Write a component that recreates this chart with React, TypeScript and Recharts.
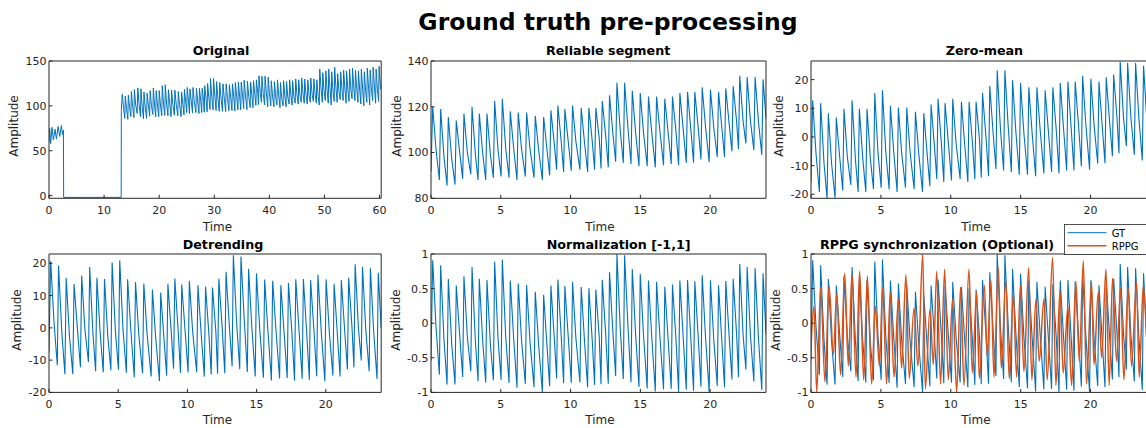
import React from 'react';
import { LineChart, Line, XAxis, YAxis } from 'recharts';

// ---------------- DATA ----------------
// Reliable segment (24 s): peak times / peak values / dicrotic-notch values / trough values
const relPeakT = [0.12, 0.69, 1.24, 1.81, 2.36, 2.94, 3.46, 4.01, 4.56, 5.11, 5.68, 6.25, 6.85, 7.47, 8.07, 8.59, 9.09, 9.59, 10.14, 10.76, 11.31, 11.81, 12.27, 12.79, 13.32, 13.87, 14.42, 14.99, 15.58, 16.16, 16.75, 17.3, 17.83, 18.38, 18.9, 19.43, 20.02, 20.6, 21.12, 21.65, 22.12, 22.65, 23.22, 23.79];
const relPeakV = [120, 119, 115.5, 114, 117, 120, 117, 117, 122.5, 123.5, 118, 117.5, 117.5, 116, 115.5, 118.5, 120.5, 119, 120.5, 119.5, 119.5, 119.5, 122.5, 125, 130.5, 130.5, 127, 126, 124.5, 124.5, 123.5, 124.5, 126, 126.5, 126.5, 128.5, 127.5, 126.5, 128, 129, 133.5, 133, 133, 132];
const relNotchV = [101.3, 98.1, 97.5, 100.4, 100.2, 99.2, 99.9, 99.3, 101.2, 102.0, 102.0, 101.4, 101.8, 101.2, 101.2, 103.9, 104.6, 105.0, 104.9, 104.3, 105.1, 106.4, 107.7, 108.4, 109.4, 110.7, 108.7, 108.5, 108.5, 109.3, 108.7, 110.0, 110.0, 109.8, 111.1, 111.1, 110.8, 110.6, 112.6, 113.9, 113.6, 113.6, 113.5];
const relTroughV = [88, 85.6, 86, 88.5, 90.5, 88, 88, 89, 89.5, 89, 88, 89.5, 89, 88, 90, 92.5, 91.5, 92, 92.5, 91.5, 92.5, 93, 93.5, 96, 95.5, 95, 94, 94, 93.5, 94.5, 95, 94.5, 95.5, 95.5, 97, 95.8, 98, 98, 100.5, 101.5, 104, 101, 99];
const REL_START_V = 91.6;
const REL_END_V = 115;
const REL_DURATION = 24;

// Original recording (60 s)
const origHeadT = [0, 0.12, 0.3, 0.55, 0.8, 1.1, 1.35, 1.65, 1.95, 2.25, 2.45, 2.62, 2.66, 13.1, 13.13];
const origHeadV = [60, 75, 58, 76, 62, 74, 63, 77, 66, 78, 68, 73, -2, -2, 95];
const origPrePeakT = [13.3, 13.85, 14.4, 14.95, 15.5];
const origPrePeakV = [113, 111, 112, 116, 118];
const origPreNotchV = [97, 96, 98, 99, 101];
const origPreTroughV = [86, 85, 88, 87];
const RELIABLE_START = 16; // reliable segment = original[16 s, 40 s]
const origTailPeakT = [40.35, 40.92, 41.47, 42.02, 42.58, 43.12, 43.68, 44.22, 44.78, 45.33, 45.88, 46.42, 46.98, 47.52, 48.08, 48.62, 49.15, 49.7, 50.25, 50.78, 51.32, 51.86, 52.4, 52.95, 53.48, 54.02, 54.56, 55.1, 55.63, 56.17, 56.7, 57.24, 57.78, 58.3, 58.84, 59.38, 59.92];
const origTailPeakV = [128, 127, 129, 126, 128, 127, 129, 128, 130, 129, 131, 130, 129, 131, 130, 129, 141, 137, 139, 141, 138, 143, 136, 138, 140, 139, 141, 142, 140, 139, 141, 138, 142, 140, 143, 141, 144];
const origTailTroughV = [100, 99, 101, 98, 100, 99, 102, 101, 103, 102, 104, 103, 102, 104, 105, 103, 101, 104, 106, 103, 101, 105, 104, 107, 106, 103, 105, 108, 106, 104, 102, 100, 104, 101, 106, 103, 105];
const origTailNotchV = [110, 109, 111, 108, 110, 109, 111, 110, 112, 111, 113, 112, 111, 113, 112, 111, 118, 116, 117, 118, 116, 119, 116, 117, 118, 117, 118, 119, 118, 117, 118, 116, 119, 117, 120, 118, 120];
const ORIG_END_T = 60.3;
const ORIG_END_V = 118;

// Pre-processing parameters
const ZERO_MEAN_LEVEL = 107.2;     // level of 0 in "Zero-mean"
const TREND_INTERCEPT = 99.2;      // linear trend removed in "Detrending"
const TREND_SLOPE = 0.66;

// rPPG signal (alternating extrema)
const rppgT = [0, 0.21, 0.41, 0.69, 1.0, 1.29, 1.6, 1.84, 2.12, 2.41, 2.67, 2.93, 3.22, 3.48, 3.77, 4.03, 4.34, 4.6, 4.89, 5.13, 5.41, 5.67, 5.94, 6.25, 6.48, 6.79, 7.03, 7.37, 7.65, 7.99, 8.18, 8.51, 8.75, 8.99, 9.27, 9.56, 9.82, 10.13, 10.42, 10.7, 10.94, 11.3, 11.54, 11.85, 12.04, 12.4, 12.61, 12.87, 13.09, 13.4, 13.61, 13.94, 14.18, 14.47, 14.71, 14.99, 15.23, 15.57, 15.8, 16.09, 16.33, 16.66, 16.9, 17.28, 17.52, 17.81, 18.04, 18.38, 18.64, 18.95, 19.19, 19.48, 19.71, 20.07, 20.24, 20.55, 20.79, 21.1, 21.33, 21.57, 21.86, 22.15, 22.38, 22.69, 22.93, 23.29, 23.48, 23.77, 24];
const rppgV = [-0.35, 0.25, -1.0, 0.52, -0.85, 0.55, -0.45, 0.43, -0.75, 0.72, -0.62, 0.72, -0.78, 0.75, -0.82, 0.68, -0.88, 0.25, -0.62, 0.52, -0.88, 0.45, -0.78, 0.35, -0.65, 0.7, -0.8, 0.22, -0.62, 1.0, -0.95, 0.2, -0.6, 0.75, -0.88, 0.78, -0.82, 0.35, -1.0, 0.52, -0.9, 0.78, -0.72, 0.45, -0.8, 0.55, -0.48, 0.62, -0.78, 0.8, -0.65, 0.62, -0.8, 0.42, -0.78, 0.55, -0.7, 0.8, -0.82, 0.35, -0.55, 0.35, -0.82, 0.95, -0.9, 0.48, -0.72, 0.25, -0.9, 0.6, -0.55, 0.9, -0.88, 0.6, -0.6, 0.45, -0.5, 0.78, -0.9, 0.65, -0.55, 0.5, -0.82, 0.5, -0.62, 0.6, -0.78, 0.55, -0.2];

// Tick labels
const ticksX60 = [0, 10, 20, 30, 40, 50, 60];
const ticksX24 = [0, 5, 10, 15, 20];
const ticksOrig = [0, 50, 100, 150];
const ticksRel = [80, 100, 120, 140];
const ticksTens = [-20, -10, 0, 10, 20];
const ticksNorm = [-1, -0.5, 0, 0.5, 1];

// ---------------- series construction ----------------
type Pt = { t: number; v: number };
const RISE = 0.09;       // trough -> systolic peak
const NOTCH_LAG = 0.24;  // peak -> dicrotic notch

const rel: Pt[] = [{ t: 0, v: REL_START_V }];
relPeakT.forEach((tp, i) => {
  if (i > 0) rel.push({ t: tp - RISE, v: relTroughV[i - 1] });
  rel.push({ t: tp, v: relPeakV[i] });
  if (i < relNotchV.length) rel.push({ t: tp + NOTCH_LAG, v: relNotchV[i] });
});
rel.push({ t: REL_DURATION, v: REL_END_V });

const orig: Pt[] = origHeadT.map((t, i) => ({ t, v: origHeadV[i] }));
origPrePeakT.forEach((tp, i) => {
  if (i > 0) orig.push({ t: tp - RISE, v: origPreTroughV[i - 1] });
  orig.push({ t: tp, v: origPrePeakV[i] });
  orig.push({ t: tp + NOTCH_LAG, v: origPreNotchV[i] });
});
rel.forEach((p) => orig.push({ t: p.t + RELIABLE_START, v: p.v }));
origTailPeakT.forEach((tp, i) => {
  orig.push({ t: tp - RISE, v: origTailTroughV[i] });
  orig.push({ t: tp, v: origTailPeakV[i] });
  orig.push({ t: tp + NOTCH_LAG, v: origTailNotchV[i] });
});
orig.push({ t: ORIG_END_T, v: ORIG_END_V });

const zeroMean: Pt[] = rel.map((p) => ({ t: p.t, v: p.v - ZERO_MEAN_LEVEL }));
const detrended: Pt[] = rel.map((p) => ({ t: p.t, v: p.v - (TREND_INTERCEPT + TREND_SLOPE * p.t) }));
const dMin = Math.min(...detrended.map((p) => p.v));
const dMax = Math.max(...detrended.map((p) => p.v));
const normalized: Pt[] = detrended.map((p) => ({ t: p.t, v: (2 * (p.v - dMin)) / (dMax - dMin) - 1 }));
const rppg: Pt[] = rppgT.map((t, i) => ({ t, v: rppgV[i] }));

// ---------------- styling / layout ----------------
const FONT = "'DejaVu Sans', 'Liberation Sans', sans-serif";
const AX = '#262626';
const BLUE = '#0072BD';
const ORANGE = '#D95319';
const TICK = 3.5;
const ML = 45, MT = 5, MR = 5, MB = 25;

type Geo = { left: number; top: number; w: number; h: number };
const geo: Geo[] = [
  { left: 49.3, top: 60.7, w: 332.2, h: 137.3 },
  { left: 431, top: 60.7, w: 335, h: 137.3 },
  { left: 810.7, top: 60.7, w: 335.5, h: 137.3 },
  { left: 49.3, top: 254.3, w: 332.2, h: 138.4 },
  { left: 431, top: 254.3, w: 335, h: 138.4 },
  { left: 810.7, top: 254.3, w: 335.5, h: 138.4 },
];

type Series = { data: Pt[]; color: string; width: number; smooth?: boolean };

function Panel(props: {
  g: Geo;
  xDomain: [number, number];
  xTicks: number[];
  yDomain: [number, number];
  yTicks: number[];
  series: Series[];
}) {
  const { g, xDomain, xTicks, yDomain, yTicks, series } = props;
  const tickStyle = { fill: AX, fontSize: 11, fontFamily: FONT };
  return (
    <div style={{ position: 'absolute', left: g.left - ML, top: g.top - MT }}>
      <LineChart
        width={g.w + ML + MR}
        height={g.h + MT + MB}
        margin={{ top: MT - 1, right: MR - 1, bottom: 0, left: 0 }}
      >
        <XAxis
          xAxisId="b"
          type="number"
          dataKey="t"
          domain={xDomain}
          ticks={xTicks}
          interval={0}
          allowDataOverflow
          height={MB}
          tickSize={-TICK}
          tickMargin={11.7}
          stroke={AX}
          tick={tickStyle}
        />
        <XAxis
          xAxisId="t"
          orientation="top"
          type="number"
          dataKey="t"
          domain={xDomain}
          ticks={xTicks}
          interval={0}
          allowDataOverflow
          height={1}
          tickSize={-TICK}
          stroke={AX}
          tick={false}
        />
        <YAxis
          yAxisId="l"
          type="number"
          domain={yDomain}
          ticks={yTicks}
          interval={0}
          allowDataOverflow
          width={ML}
          tickSize={-TICK}
          tickMargin={6}
          stroke={AX}
          tick={tickStyle}
        />
        <YAxis
          yAxisId="r"
          orientation="right"
          type="number"
          domain={yDomain}
          ticks={yTicks}
          interval={0}
          allowDataOverflow
          width={1}
          tickSize={-TICK}
          stroke={AX}
          tick={false}
        />
        {series.map((s, i) => (
          <Line
            key={i}
            xAxisId="b"
            yAxisId="l"
            data={s.data}
            dataKey="v"
            type={s.smooth ? 'monotone' : 'linear'}
            stroke={s.color}
            strokeWidth={s.width}
            dot={false}
            activeDot={false}
            isAnimationActive={false}
          />
        ))}
      </LineChart>
    </div>
  );
}

const titles = [
  { text: 'Original', x: 192.7, y: 55 },
  { text: 'Reliable segment', x: 546, y: 55 },
  { text: 'Zero-mean', x: 945.7, y: 55 },
  { text: 'Detrending', x: 182.7, y: 249 },
  { text: 'Normalization [-1,1]', x: 546.7, y: 249 },
  { text: 'RPPG synchronization (Optional)', x: 820, y: 249 },
];
const ylabels = [
  { x: 15, y: 126 },
  { x: 398.3, y: 126 },
  { x: 780, y: 126 },
  { x: 18.3, y: 320 },
  { x: 397.3, y: 320 },
  { x: 776.7, y: 320 },
];
const xlabels = [
  { x: 217.5, y: 230.5 },
  { x: 600, y: 230.5 },
  { x: 976, y: 230.5 },
  { x: 217.5, y: 424 },
  { x: 600, y: 424 },
  { x: 976, y: 424 },
];

export default function App() {
  return (
    <div
      style={{
        position: 'absolute',
        left: 0,
        top: 0,
        width: 1146,
        height: 428,
        overflow: 'hidden',
        background: '#fff',
      }}
    >
      <Panel g={geo[0]} xDomain={[0, 60.3]} xTicks={ticksX60} yDomain={[-3, 150]} yTicks={ticksOrig}
        series={[{ data: orig, color: BLUE, width: 1 }]} />
      <Panel g={geo[1]} xDomain={[0, 24]} xTicks={ticksX24} yDomain={[80, 140]} yTicks={ticksRel}
        series={[{ data: rel, color: BLUE, width: 1.1 }]} />
      <Panel g={geo[2]} xDomain={[0, 24]} xTicks={ticksX24} yDomain={[-21.4, 26.5]} yTicks={ticksTens}
        series={[{ data: zeroMean, color: BLUE, width: 1.1 }]} />
      <Panel g={geo[3]} xDomain={[0, 24]} xTicks={ticksX24} yDomain={[-20, 22.9]} yTicks={ticksTens}
        series={[{ data: detrended, color: BLUE, width: 1.1 }]} />
      <Panel g={geo[4]} xDomain={[0, 24]} xTicks={ticksX24} yDomain={[-1, 1]} yTicks={ticksNorm}
        series={[{ data: normalized, color: BLUE, width: 1.1 }]} />
      <Panel g={geo[5]} xDomain={[0, 24]} xTicks={ticksX24} yDomain={[-1, 1]} yTicks={ticksNorm}
        series={[
          { data: normalized, color: BLUE, width: 1.1 },
          { data: rppg, color: ORANGE, width: 1.5, smooth: true },
        ]} />

      <svg
        width={1146}
        height={428}
        style={{ position: 'absolute', left: 0, top: 0, pointerEvents: 'none' }}
        fontFamily={FONT}
      >
        <text x={608} y={29.5} textAnchor="middle" fontSize={23.5} fontWeight="bold" fill="#000">
          Ground truth pre-processing
        </text>
        {titles.map((t, i) => (
          <text key={'t' + i} x={t.x} y={t.y} fontSize={12.7} fontWeight="bold" fill="#000">
            {t.text}
          </text>
        ))}
        {ylabels.map((l, i) => (
          <text key={'y' + i} x={l.x + 3} y={l.y} fontSize={12} fill={AX} textAnchor="middle"
            transform={`rotate(-90 ${l.x + 3} ${l.y})`}>
            Amplitude
          </text>
        ))}
        {xlabels.map((l, i) => (
          <text key={'x' + i} x={l.x} y={l.y} fontSize={12} fill={AX} textAnchor="middle">
            Time
          </text>
        ))}
        {/* legend of the last panel */}
        <rect x={1064.5} y={224.5} width={90} height={30} fill="#fff" stroke={AX} strokeWidth={0.8} />
        <line x1={1067.5} y1={232.7} x2={1106.5} y2={232.7} stroke={BLUE} strokeWidth={1} />
        <line x1={1067.5} y1={245.7} x2={1106.5} y2={245.7} stroke={ORANGE} strokeWidth={1.5} />
        <text x={1111.7} y={236.5} fontSize={10} fill="#000">GT</text>
        <text x={1111.7} y={249.5} fontSize={10} fill="#000">RPPG</text>
      </svg>
    </div>
  );
}
